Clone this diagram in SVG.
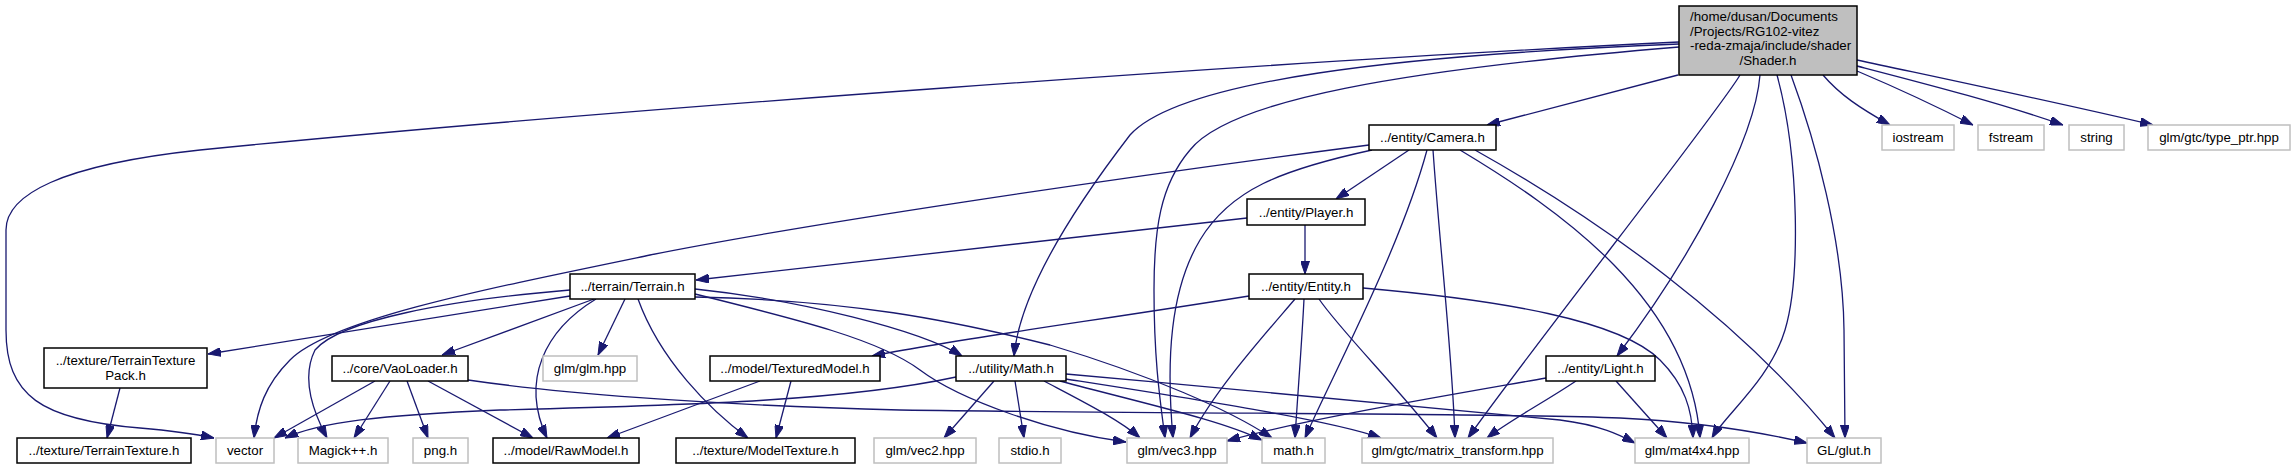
<svg xmlns="http://www.w3.org/2000/svg" width="2295" height="469" viewBox="0 0 2295 469">
<style>
.n rect{fill:#fff;stroke:#000;stroke-width:1.5}
.s rect{fill:#fff;stroke:#bfbfbf;stroke-width:1.5}
.r rect{fill:#bfbfbf;stroke:#000;stroke-width:1.5}
text{font-family:"Liberation Sans",Arial,sans-serif;font-size:13.3px;fill:#000;text-anchor:middle}
.e path{fill:none;stroke:#191970;stroke-width:1.3;marker-end:url(#a)}
</style>
<defs>
<marker id="a" viewBox="0 0 13 9" refX="13" refY="4.5" markerWidth="13" markerHeight="9" markerUnits="userSpaceOnUse" orient="auto"><path d="M0,0 L13,4.5 L0,9 z" fill="#191970" stroke="#191970" stroke-width="1"/></marker>
</defs>
<rect width="2295" height="469" fill="#fff"/>
<g class="e" id="connectors">
<path d="M1679,42 C1300,60 600,110 200,150 C60,165 6,195 6,230 L6,330 C6,395 40,420 140,428 C175,431 195,434 214,438"/>
<path d="M1679,44 C1400,55 1180,80 1130,135 C1080,200 1020,290 1014,356"/>
<path d="M1679,47 C1400,70 1230,100 1190,150 C1160,185 1154,230 1154,290 C1154,360 1160,400 1165,438"/>
<path d="M1678,75 L1487,125"/>
<path d="M1740,75 C1720,110 1530,350 1468,438"/>
<path d="M1760,75 C1755,140 1690,260 1617,356"/>
<path d="M1777,75 C1800,160 1800,280 1785,330 C1770,380 1725,415 1712,438"/>
<path d="M1791,75 C1815,140 1843,240 1844,330 L1845,438"/>
<path d="M1823,75 C1840,95 1860,108 1890,125"/>
<path d="M1857,71 C1890,85 1930,103 1973,125"/>
<path d="M1857,66 C1930,85 2000,103 2063,125"/>
<path d="M1857,60 C1950,80 2060,103 2153,125"/>
<path d="M1369,145 C1100,180 800,225 650,255 C480,290 330,320 290,360 C265,385 257,410 254,438"/>
<path d="M1409,150 L1336,199"/>
<path d="M1372,150 C1280,170 1230,190 1200,240 C1170,290 1166,360 1173,438"/>
<path d="M1427,150 C1400,250 1330,380 1305,438"/>
<path d="M1433,150 C1440,250 1452,350 1455,438"/>
<path d="M1460,150 C1560,210 1690,300 1700,438"/>
<path d="M1475,150 C1600,220 1740,320 1835,438"/>
<path d="M1247,218 L696,280"/>
<path d="M1305,225 L1305,274"/>
<path d="M1249,296 C1100,320 950,340 872,356"/>
<path d="M1295,299 C1260,340 1215,390 1190,438"/>
<path d="M1304,299 C1302,340 1298,390 1295,438"/>
<path d="M1319,299 C1340,330 1400,390 1437,438"/>
<path d="M1363,288 C1500,300 1620,320 1660,360 C1685,385 1692,410 1693,438"/>
<path d="M570,296 L208,354"/>
<path d="M570,290 C450,300 340,320 315,350 C300,380 315,415 327,438"/>
<path d="M594,299 L442,355"/>
<path d="M596,299 C545,330 520,380 547,438"/>
<path d="M625,299 L598,355"/>
<path d="M638,299 C660,360 710,410 748,438"/>
<path d="M695,289 C800,300 920,330 962,356"/>
<path d="M695,294 C800,320 880,340 920,370 C960,400 1050,432 1126,442"/>
<path d="M695,297 C850,300 950,320 1050,345 C1150,375 1230,410 1272,438"/>
<path d="M375,381 L274,438"/>
<path d="M390,381 L354,438"/>
<path d="M407,381 L428,438"/>
<path d="M428,381 L533,438"/>
<path d="M468,380 C550,392 700,405 900,410 C1200,414 1500,413 1620,418 C1700,422 1760,432 1807,443"/>
<path d="M956,377 C850,400 700,405 500,410 C380,415 320,422 285,438"/>
<path d="M994,381 L944,438"/>
<path d="M1015,381 L1024,438"/>
<path d="M1044,381 C1080,400 1120,420 1140,438"/>
<path d="M1060,381 C1150,405 1220,420 1262,440"/>
<path d="M1066,379 C1200,400 1330,420 1381,438"/>
<path d="M1066,374 C1250,390 1450,410 1560,420 C1600,425 1620,435 1635,443"/>
<path d="M1546,378 C1450,395 1300,420 1227,441"/>
<path d="M1576,381 C1540,405 1510,420 1487,438"/>
<path d="M1616,381 L1667,438"/>
<path d="M760,381 L607,438"/>
<path d="M791,381 L776,438"/>
<path d="M120,388 L107,438"/>
</g>
<g id="shader" class="r"><rect x="1679" y="6" width="178" height="69"/>
<text x="1690" y="21" style="text-anchor:start">/home/dusan/Documents</text>
<text x="1690" y="35.5" style="text-anchor:start">/Projects/RG102-vitez</text>
<text x="1690" y="50" style="text-anchor:start">-reda-zmaja/include/shader</text>
<text x="1768" y="64.5">/Shader.h</text></g>
<g id="camera" class="n"><rect x="1369" y="125" width="127" height="25"/><text x="1432.5" y="142">../entity/Camera.h</text></g>
<g id="iostream" class="s"><rect x="1882" y="125" width="72" height="25"/><text x="1918" y="142">iostream</text></g>
<g id="fstream" class="s"><rect x="1978" y="125" width="66" height="25"/><text x="2011" y="142">fstream</text></g>
<g id="string" class="s"><rect x="2069" y="125" width="55" height="25"/><text x="2096.5" y="142">string</text></g>
<g id="type_ptr" class="s"><rect x="2148" y="125" width="142" height="25"/><text x="2219" y="142">glm/gtc/type_ptr.hpp</text></g>
<g id="player" class="n"><rect x="1247" y="199" width="118" height="26"/><text x="1306" y="216.5">../entity/Player.h</text></g>
<g id="terrain" class="n"><rect x="570" y="274" width="125" height="25"/><text x="632.5" y="291">../terrain/Terrain.h</text></g>
<g id="entity" class="n"><rect x="1249" y="274" width="114" height="25"/><text x="1306" y="291">../entity/Entity.h</text></g>
<g id="texturepack" class="n"><rect x="44" y="348" width="163" height="40"/><text x="125.5" y="365">../texture/TerrainTexture</text><text x="125.5" y="380">Pack.h</text></g>
<g id="vaoloader" class="n"><rect x="332" y="356" width="136" height="25"/><text x="400" y="373">../core/VaoLoader.h</text></g>
<g id="glm" class="s"><rect x="543" y="356" width="94" height="25"/><text x="590" y="373">glm/glm.hpp</text></g>
<g id="texturedmodel" class="n"><rect x="710" y="356" width="170" height="25"/><text x="795" y="373">../model/TexturedModel.h</text></g>
<g id="math" class="n"><rect x="956" y="356" width="110" height="25"/><text x="1011" y="373">../utility/Math.h</text></g>
<g id="light" class="n"><rect x="1546" y="356" width="109" height="25"/><text x="1600.5" y="373">../entity/Light.h</text></g>
<g id="terraintexture" class="n"><rect x="17" y="438" width="174" height="25"/><text x="104" y="455">../texture/TerrainTexture.h</text></g>
<g id="vector" class="s"><rect x="216" y="438" width="58" height="25"/><text x="245" y="455">vector</text></g>
<g id="magick" class="s"><rect x="298" y="438" width="90" height="25"/><text x="343" y="455">Magick++.h</text></g>
<g id="png" class="s"><rect x="413" y="438" width="55" height="25"/><text x="440.5" y="455">png.h</text></g>
<g id="rawmodel" class="n"><rect x="493" y="438" width="146" height="25"/><text x="566" y="455">../model/RawModel.h</text></g>
<g id="modeltexture" class="n"><rect x="676" y="438" width="179" height="25"/><text x="765.5" y="455">../texture/ModelTexture.h</text></g>
<g id="vec2" class="s"><rect x="874" y="438" width="102" height="25"/><text x="925" y="455">glm/vec2.hpp</text></g>
<g id="stdio" class="s"><rect x="999" y="438" width="62" height="25"/><text x="1030" y="455">stdio.h</text></g>
<g id="vec3" class="s"><rect x="1127" y="438" width="100" height="25"/><text x="1177" y="455">glm/vec3.hpp</text></g>
<g id="mathh" class="s"><rect x="1262" y="438" width="63" height="25"/><text x="1293.5" y="455">math.h</text></g>
<g id="matrix_transform" class="s"><rect x="1362" y="438" width="191" height="25"/><text x="1457.5" y="455">glm/gtc/matrix_transform.hpp</text></g>
<g id="mat4x4" class="s"><rect x="1635" y="438" width="114" height="25"/><text x="1692" y="455">glm/mat4x4.hpp</text></g>
<g id="glut" class="s"><rect x="1807" y="438" width="74" height="25"/><text x="1844" y="455">GL/glut.h</text></g>
</svg>
